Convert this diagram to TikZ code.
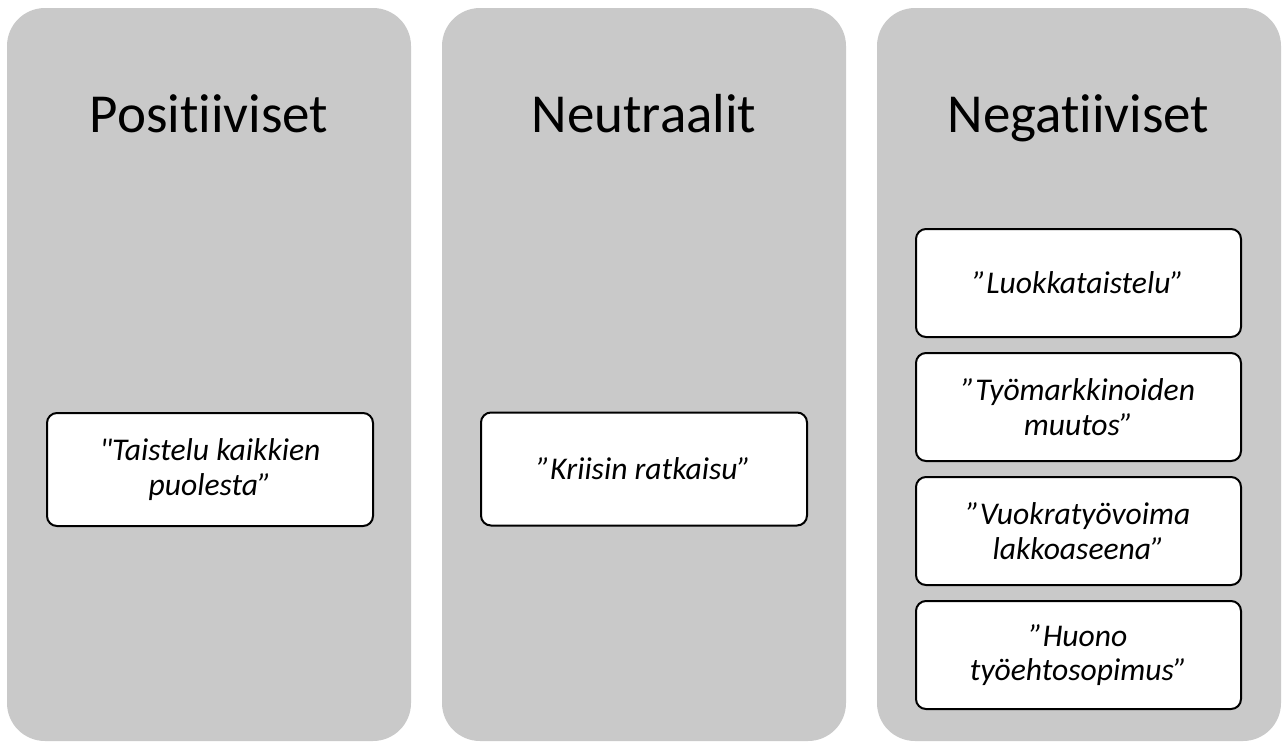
\documentclass[tikz,border=0pt]{standalone}
\usepackage{fontspec}
\setmainfont{Carlito}[Ligatures={TeXOff,CommonOff}]
\definecolor{panelgray}{RGB}{201,201,201}
\begin{document}
\begin{tikzpicture}[x=1pt,y=-1pt,
  panel/.style={fill=panelgray, rounded corners=38pt},
  heading/.style={anchor=base, font=\fontsize{55}{65}\selectfont, text=black, inner sep=0pt},
  item/.style={draw=black, line width=2pt, fill=white, rounded corners=10pt,
    align=center, inner sep=0pt, font=\itshape\fontsize{31.6}{34.7}\selectfont},
  wideitem/.style={item, minimum width=326pt, minimum height=113pt},
  stackitem/.style={item, minimum width=325pt, minimum height=108pt},
]
\useasboundingbox (0,0) rectangle (1282,742);

% three columns
\fill[panel] (7,8) rectangle (411,741);
\fill[panel] (442,8) rectangle (846,741);
\fill[panel] (877,8) rectangle (1281,741);

% column headings
\node[heading] (hpos) at (209,132) {Positiiviset};
\node[heading] (hneu) at (644,132) {Neutraalit};
\node[heading] (hneg) at (1078.5,132) {Negatiiviset};

% positive
\node[wideitem] (pos1) at (210,469.5) {"Taistelu kaikkien\\puolesta”};

% neutral
\node[wideitem] (neu1) at (644,469) {”Kriisin ratkaisu”};

% negative
\node[stackitem] (neg1) at (1078.5,283) {”Luokkataistelu”};
\node[stackitem] (neg2) at (1078.5,407) {”Työmarkkinoiden\\muutos”};
\node[stackitem] (neg3) at (1078.5,531) {”Vuokratyövoima\\lakkoaseena”};
\node[stackitem] (neg4) at (1078.5,655) {”Huono\\työehtosopimus”};
\end{tikzpicture}
\end{document}
